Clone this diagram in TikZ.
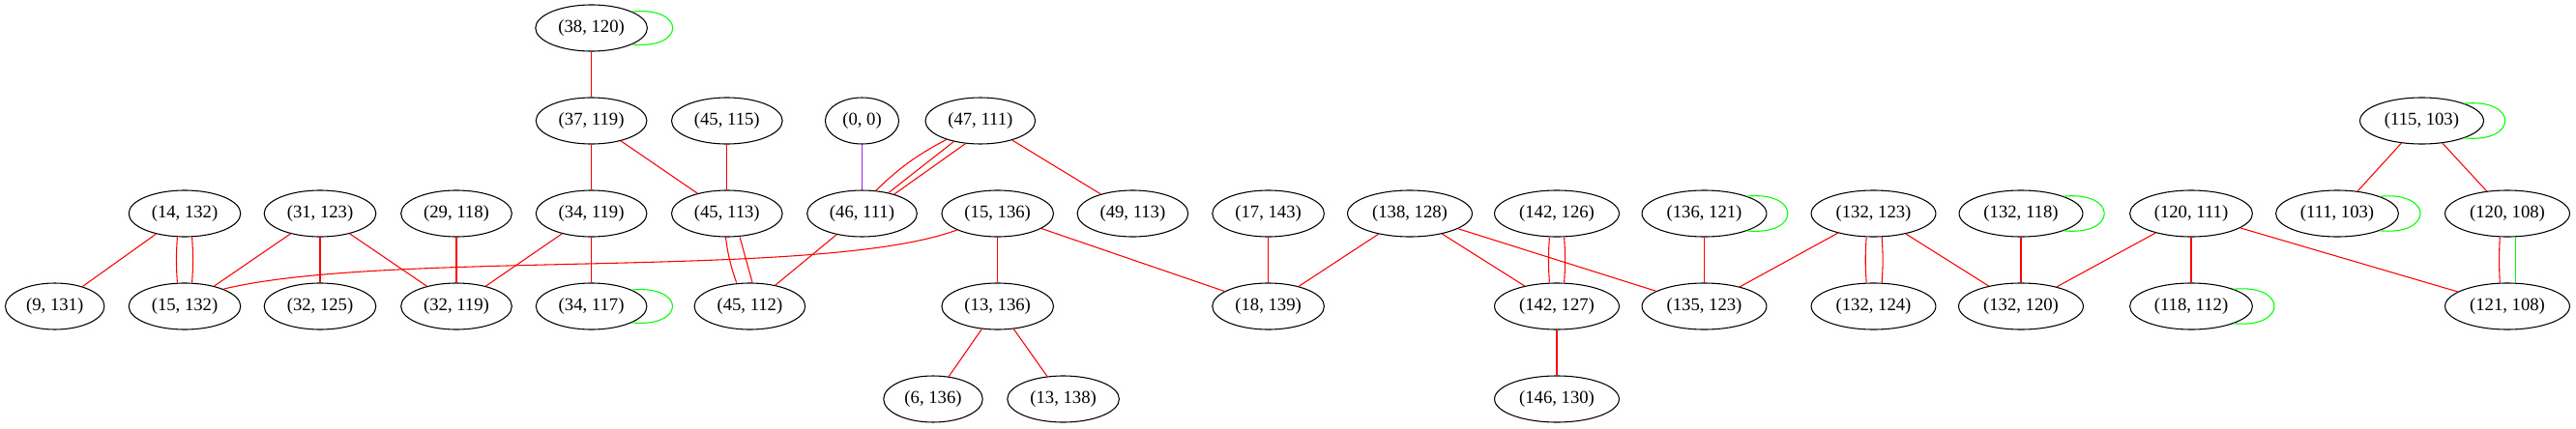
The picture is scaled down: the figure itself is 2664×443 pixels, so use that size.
\documentclass[tikz,border=0pt]{standalone}
\usepackage{fontspec}
\setmainfont{Liberation Serif}
\usetikzlibrary{shapes.geometric}

\definecolor{gvred}{HTML}{FF0000}
\definecolor{gvgreen}{HTML}{00FF00}
\definecolor{gvpurple}{HTML}{A020F0}

\tikzset{
  vtx/.style={ellipse, draw, line width=0.8pt, inner xsep=5pt, inner ysep=0pt,
    minimum height=36pt, font=\fontsize{14}{16}\selectfont},
  redline/.style={draw=gvred, line width=0.8pt},
  greenline/.style={draw=gvgreen, line width=0.8pt},
  purpleline/.style={draw=gvpurple, line width=0.8pt},
}

\begin{document}
\begin{tikzpicture}[x=0.75pt, y=-0.75pt]

  \useasboundingbox (0,0) rectangle (2664,443);

  % rank 1
  \node[vtx] (p38x120) at (611.6,29) {(38, 120)};

  % rank 2
  \node[vtx] (p37x119) at (611.6,125) {(37, 119)};
  \node[vtx] (p45x115) at (751.8,125) {(45, 115)};
  \node[vtx] (p0x0) at (891.5,125) {(0, 0)};
  \node[vtx] (p47x111) at (1013.8,125) {(47, 111)};
  \node[vtx] (p115x103) at (2504.5,125) {(115, 103)};

  % rank 3
  \node[vtx] (p14x132) at (191,221) {(14, 132)};
  \node[vtx] (p31x123) at (331,221) {(31, 123)};
  \node[vtx] (p29x118) at (472,221) {(29, 118)};
  \node[vtx] (p34x119) at (611.6,221) {(34, 119)};
  \node[vtx] (p45x113) at (751.8,221) {(45, 113)};
  \node[vtx] (p46x111) at (891.5,221) {(46, 111)};
  \node[vtx] (p15x136) at (1031.7,221) {(15, 136)};
  \node[vtx] (p49x113) at (1171.4,221) {(49, 113)};
  \node[vtx] (p17x143) at (1311.6,221) {(17, 143)};
  \node[vtx] (p138x128) at (1458,221) {(138, 128)};
  \node[vtx] (p142x126) at (1610,221) {(142, 126)};
  \node[vtx] (p136x121) at (1762.5,221) {(136, 121)};
  \node[vtx] (p132x123) at (1937.5,221) {(132, 123)};
  \node[vtx] (p132x118) at (2090,221) {(132, 118)};
  \node[vtx] (p120x111) at (2266,221) {(120, 111)};
  \node[vtx] (p111x103) at (2417,221) {(111, 103)};
  \node[vtx] (p120x108) at (2593,221) {(120, 108)};

  % rank 4
  \node[vtx] (p9x131) at (56.7,317) {(9, 131)};
  \node[vtx] (p15x132) at (191,317) {(15, 132)};
  \node[vtx] (p32x125) at (331,317) {(32, 125)};
  \node[vtx] (p32x119) at (472,317) {(32, 119)};
  \node[vtx] (p34x117) at (611.6,317) {(34, 117)};
  \node[vtx] (p45x112) at (775.4,317) {(45, 112)};
  \node[vtx] (p13x136) at (1031.7,317) {(13, 136)};
  \node[vtx] (p18x139) at (1311.6,317) {(18, 139)};
  \node[vtx] (p142x127) at (1610,317) {(142, 127)};
  \node[vtx] (p135x123) at (1762.5,317) {(135, 123)};
  \node[vtx] (p132x124) at (1937.5,317) {(132, 124)};
  \node[vtx] (p132x120) at (2090,317) {(132, 120)};
  \node[vtx] (p118x112) at (2266,317) {(118, 112)};
  \node[vtx] (p121x108) at (2593,317) {(121, 108)};

  % rank 5
  \node[vtx] (p6x136) at (965,413) {(6, 136)};
  \node[vtx] (p13x138) at (1099.6,413) {(13, 138)};
  \node[vtx] (p146x130) at (1610,413) {(146, 130)};

  % self loops
  \foreach \n in {p38x120,p34x117,p136x121,p132x118,p118x112,p115x103,p111x103}{
    \draw[greenline] (\n.22) .. controls +(42pt,4pt) and +(42pt,-4pt) .. (\n.-22);
  }

  \draw[redline] (p38x120) -- (p37x119);
  \draw[redline] (p37x119) -- (p34x119);
  \draw[redline] (p37x119) -- (p45x113);
  \draw[redline] (p45x115) -- (p45x113);
  \draw[purpleline] (p0x0) -- (p46x111);

  \draw[redline] (p47x111) -- (p46x111);
  \draw[redline] (p47x111.209) to[bend right=8] (p46x111.59);
  \draw[redline] (p47x111.237) -- (p46x111.31);
  \draw[redline] (p47x111) -- (p49x113);

  \draw[redline] (p14x132) -- (p9x131);
  \draw[redline] ([xshift=-5.7pt]p14x132.south) to[bend right=4] ([xshift=-5.7pt]p15x132.north);
  \draw[redline] ([xshift=5.7pt]p14x132.south) to[bend left=4] ([xshift=5.7pt]p15x132.north);
  \draw[redline] (p31x123) -- (p15x132);
  \draw[redline] (p31x123) -- (p32x125);
  \draw[redline] (p31x123) -- (p32x119);
  \draw[redline] (p29x118) -- (p32x119);
  \draw[redline] (p34x119) -- (p32x119);
  \draw[redline] (p34x119) -- (p34x117);

  \draw[redline] ([xshift=-1pt]p45x113.south) to[bend right=6] ([xshift=-10.3pt]p45x112.north);
  \draw[redline] ([xshift=10pt]p45x113.south) -- ([xshift=2pt]p45x112.north);
  \draw[redline] (p46x111) -- (p45x112);

  \draw[redline] (p15x136.202) .. controls (850,290) and (400,258) .. (p15x132.24);
  \draw[redline] (p15x136) -- (p13x136);
  \draw[redline] (p15x136) -- (p18x139);
  \draw[redline] (p17x143) -- (p18x139);
  \draw[redline] (p13x136) -- (p6x136);
  \draw[redline] (p13x136) -- (p13x138);

  \draw[redline] (p138x128) -- (p18x139);
  \draw[redline] (p138x128) -- (p142x127);
  \draw[redline] (p138x128) -- (p135x123);
  \draw[redline] ([xshift=-5.7pt]p142x126.south) to[bend right=4] ([xshift=-5.7pt]p142x127.north);
  \draw[redline] ([xshift=5.7pt]p142x126.south) to[bend left=4] ([xshift=5.7pt]p142x127.north);
  \draw[redline] (p142x127) -- (p146x130);
  \draw[redline] (p136x121) -- (p135x123);

  \draw[redline] (p132x123) -- (p135x123);
  \draw[redline] ([xshift=-5.5pt]p132x123.south) to[bend right=4] ([xshift=-5.5pt]p132x124.north);
  \draw[redline] ([xshift=6.5pt]p132x123.south) to[bend left=4] ([xshift=6.5pt]p132x124.north);
  \draw[redline] (p132x123) -- (p132x120);
  \draw[redline] (p132x118) -- (p132x120);

  \draw[redline] (p120x111) -- (p132x120);
  \draw[redline] (p120x111) -- (p118x112);
  \draw[redline] (p120x111) -- (p121x108);

  \draw[redline] (p115x103) -- (p111x103);
  \draw[redline] (p115x103) -- (p120x108);
  \draw[redline] ([xshift=-5.8pt]p120x108.south) to[bend right=3] ([xshift=-5.8pt]p121x108.north);
  \draw[greenline] ([xshift=6.4pt]p120x108.south) -- ([xshift=6.4pt]p121x108.north);

\end{tikzpicture}
\end{document}
